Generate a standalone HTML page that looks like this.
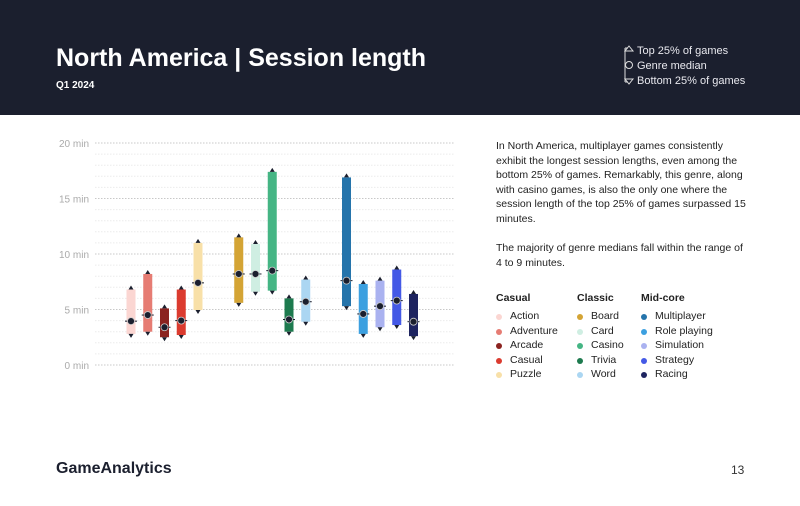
<!DOCTYPE html>
<html><head><meta charset="utf-8"><style>
*{margin:0;padding:0;box-sizing:border-box}
body{width:800px;height:506px;background:#fff;font-family:"Liberation Sans",sans-serif;position:relative;overflow:hidden}
#hdr{position:absolute;left:0;top:0;width:800px;height:115px;background:#1b1f2e}
#title{position:absolute;left:56px;top:44px;color:#fff;font-size:25px;font-weight:bold}
#sub{position:absolute;left:56px;top:80px;color:#fff;font-size:10px;font-weight:bold}
.kl{position:absolute;left:637px;color:#e8e8ee;font-size:11px}
#para{position:absolute;left:496px;top:139px;width:252px;font-size:10.5px;line-height:14.6px;color:#222}
.lg{position:absolute;font-size:10.5px;color:#222}
.lg b{display:block;margin-bottom:6px}
.lg div{height:14.6px;position:relative;padding-left:14px}
.lg div span{position:absolute;left:0;top:4px;width:6px;height:6px;border-radius:50%}
#logo{position:absolute;left:56px;top:460px;font-size:16px;font-weight:bold;color:#1b1f2e}
#pg{position:absolute;left:731px;top:463px;font-size:12px;color:#333}
</style></head><body>
<div id="hdr"></div>
<div id="title">North America | Session length</div>
<div id="sub">Q1 2024</div>
<svg style="position:absolute;left:620px;top:44px" width="16" height="42">
<path d="M5 4 L5 38 M5 4 L8 4 M5 38 L8 38" stroke="#ddd" fill="none" stroke-width="1"/>
<polygon points="9,2 13,7 5,7" fill="none" stroke="#ddd"/>
<circle cx="9" cy="21" r="3.5" fill="none" stroke="#ddd"/>
<polygon points="5,35 13,35 9,40" fill="none" stroke="#ddd"/>
</svg>
<div class="kl" style="top:45px">Top 25% of games</div>
<div class="kl" style="top:60px">Genre median</div>
<div class="kl" style="top:75px">Bottom 25% of games</div>

<svg id="chart" style="position:absolute;left:0;top:0" width="480" height="400"></svg>

<div id="para">In North America, multiplayer games consistently exhibit the longest session lengths, even among the bottom 25% of games. Remarkably, this genre, along with casino games, is also the only one where the session length of the top 25% of games surpassed 15 minutes.<br><br>The majority of genre medians fall within the range of 4 to 9 minutes.</div>

<div class="lg" style="left:496px;top:292px"><b>Casual</b>
<div><span style="background:#fbd6d2"></span>Action</div>
<div><span style="background:#e67c73"></span>Adventure</div>
<div><span style="background:#8b2320"></span>Arcade</div>
<div><span style="background:#db3b2f"></span>Casual</div>
<div><span style="background:#f8e0a8"></span>Puzzle</div></div>
<div class="lg" style="left:577px;top:292px"><b>Classic</b>
<div><span style="background:#d4a435"></span>Board</div>
<div><span style="background:#cfeee2"></span>Card</div>
<div><span style="background:#45b584"></span>Casino</div>
<div><span style="background:#1d7a4e"></span>Trivia</div>
<div><span style="background:#abd6f2"></span>Word</div></div>
<div class="lg" style="left:641px;top:292px"><b>Mid-core</b>
<div><span style="background:#2574ab"></span>Multiplayer</div>
<div><span style="background:#3ca0e0"></span>Role playing</div>
<div><span style="background:#aab2f0"></span>Simulation</div>
<div><span style="background:#4459e6"></span>Strategy</div>
<div><span style="background:#1e2460"></span>Racing</div></div>

<div id="logo">GameAnalytics</div>
<div id="pg">13</div>

<script>
const genres=["Action","Adventure","Arcade","Casual","Puzzle","Board","Card","Casino","Trivia","Word","Multiplayer","Role playing","Simulation","Strategy","Racing"];
const topVals=[6.8,8.2,5.1,6.8,11.0,11.5,10.9,17.4,6.0,7.7,16.9,7.3,7.6,8.6,6.4];
const bottomVals=[2.8,3.0,2.5,2.7,4.95,5.6,6.6,6.7,3.0,3.9,5.3,2.8,3.4,3.6,2.6];
const medianVals=[3.95,4.5,3.4,4.0,7.4,8.2,8.2,8.5,4.1,5.7,7.6,4.6,5.3,5.8,3.9];
const tickVals=[0,5,10,15,20];
const tickLabels=["0 min","5 min","10 min","15 min","20 min"];
const colors=["#fbd6d2","#e67c73","#8b2320","#db3b2f","#f8e0a8","#d4a435","#cfeee2","#45b584","#1d7a4e","#abd6f2","#2574ab","#3ca0e0","#aab2f0","#4459e6","#1e2460"];
const ns="http://www.w3.org/2000/svg",svg=document.getElementById('chart');
const y=v=>365-v*11.1;
const x=i=>131+i*16.75+Math.floor(i/5)*24;
function mk(t,a){const e=document.createElementNS(ns,t);for(const k in a)e.setAttribute(k,a[k]);svg.appendChild(e);return e;}
for(let m=0;m<=20;m++){
 const l=mk('line',{x1:95,x2:455,y1:y(m),y2:y(m),stroke:m%5?'#ebebeb':'#c8c8c8','stroke-width':1,'stroke-dasharray':'1.5,1.5'});
 
 
}
tickVals.forEach((v,i)=>{
 const t=mk('text',{x:89,y:y(v)+4,'text-anchor':'end','font-size':10,fill:'#aaa','font-family':'Liberation Sans'});
 t.textContent=tickLabels[i];
 
 
});
genres.forEach((g,i)=>{
 const cx=x(i);
 const r=mk('rect',{x:cx-4.5,y:y(topVals[i]),width:9,height:y(bottomVals[i])-y(topVals[i]),fill:colors[i]});
 
 
 const tp=mk('polygon',{points:`${cx-2.5},${y(topVals[i])} ${cx+2.5},${y(topVals[i])} ${cx},${y(topVals[i])-4}`,fill:'#1b1f2e'});
 
 
 const bt=mk('polygon',{points:`${cx-2.5},${y(bottomVals[i])} ${cx+2.5},${y(bottomVals[i])} ${cx},${y(bottomVals[i])+4}`,fill:'#1b1f2e'});
 
 
 const ml=mk('line',{x1:cx-6,x2:cx+6,y1:y(medianVals[i]),y2:y(medianVals[i]),stroke:'#1b1f2e','stroke-width':1});
 
 
 const c=mk('circle',{cx:cx,cy:y(medianVals[i]),r:3.5,fill:'#1b1f2e',stroke:'#ccc','stroke-width':0.8});
 
 
});
</script>
</body></html>
